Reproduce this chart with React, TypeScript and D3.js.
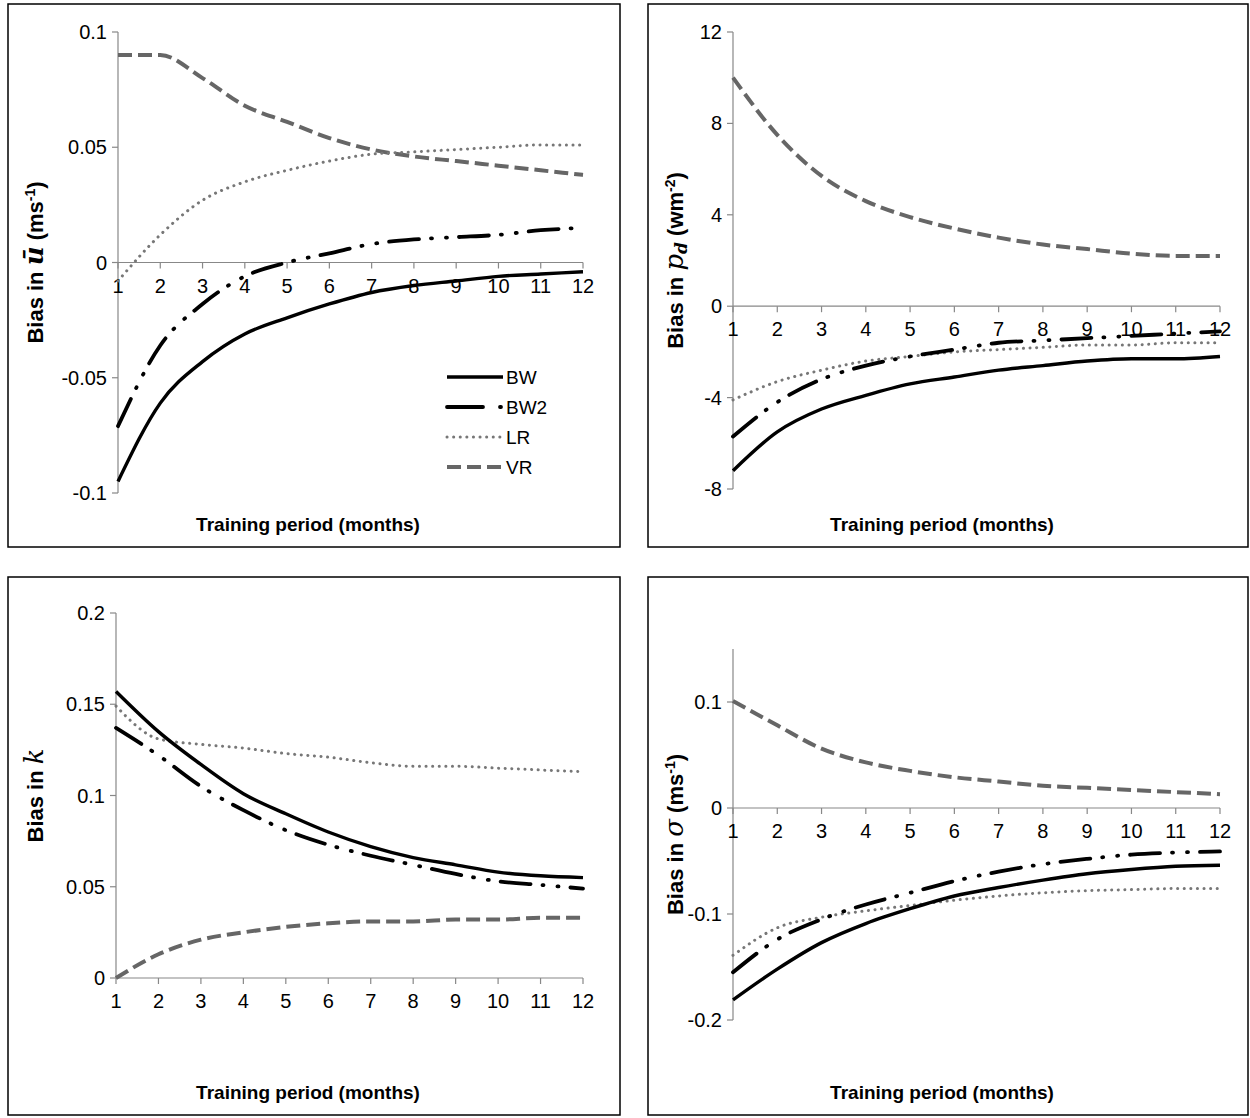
import React from 'react';
import * as d3 from 'd3';

const months = [1, 2, 3, 4, 5, 6, 7, 8, 9, 10, 11, 12];

const uBW = [-0.095, -0.061, -0.043, -0.031, -0.024, -0.018, -0.013, -0.01, -0.008, -0.006, -0.005, -0.004];
const uBW2 = [-0.071, -0.036, -0.018, -0.006, 0.0, 0.004, 0.008, 0.01, 0.011, 0.012, 0.014, 0.015];
const uLR = [-0.008, 0.012, 0.027, 0.035, 0.04, 0.044, 0.047, 0.048, 0.049, 0.05, 0.051, 0.051];
const uVR = [0.09, 0.09, 0.08, 0.068, 0.061, 0.054, 0.049, 0.046, 0.044, 0.042, 0.04, 0.038];

const pBW = [-7.2, -5.5, -4.5, -3.9, -3.4, -3.1, -2.8, -2.6, -2.4, -2.3, -2.3, -2.2];
const pBW2 = [-5.7, -4.2, -3.2, -2.6, -2.2, -1.9, -1.6, -1.5, -1.4, -1.3, -1.2, -1.1];
const pLR = [-4.1, -3.3, -2.8, -2.4, -2.2, -2.0, -1.9, -1.8, -1.7, -1.7, -1.6, -1.6];
const pVR = [10, 7.5, 5.7, 4.6, 3.9, 3.4, 3.0, 2.7, 2.5, 2.3, 2.2, 2.2];

const kBW = [0.157, 0.135, 0.117, 0.101, 0.09, 0.08, 0.072, 0.066, 0.062, 0.058, 0.056, 0.055];
const kBW2 = [0.137, 0.122, 0.105, 0.092, 0.081, 0.073, 0.067, 0.062, 0.057, 0.053, 0.051, 0.049];
const kLR = [0.149, 0.131, 0.128, 0.126, 0.123, 0.121, 0.118, 0.116, 0.116, 0.115, 0.114, 0.113];
const kVR = [0.0, 0.013, 0.021, 0.025, 0.028, 0.03, 0.031, 0.031, 0.032, 0.032, 0.033, 0.033];

const sBW = [-0.181, -0.152, -0.127, -0.109, -0.095, -0.083, -0.075, -0.068, -0.062, -0.058, -0.055, -0.054];
const sBW2 = [-0.155, -0.124, -0.105, -0.091, -0.08, -0.069, -0.06, -0.053, -0.048, -0.044, -0.042, -0.041];
const sLR = [-0.139, -0.113, -0.103, -0.097, -0.092, -0.087, -0.083, -0.08, -0.078, -0.077, -0.076, -0.076];
const sVR = [0.101, 0.078, 0.056, 0.043, 0.035, 0.029, 0.025, 0.021, 0.019, 0.017, 0.015, 0.013];

const seriesNames = ['BW', 'BW2', 'LR', 'VR'];

const styles: Record<string, { stroke: string; width: number; dash: string; cap: string }> = {
  BW: { stroke: '#000', width: 3.4, dash: '', cap: 'butt' },
  BW2: { stroke: '#000', width: 3.8, dash: '30 12 1 14 1 12', cap: 'round' },
  LR: { stroke: '#777', width: 3, dash: '0.1 6.5', cap: 'round' },
  VR: { stroke: '#666', width: 4, dash: '14 6', cap: 'butt' },
};

const font = 'Arial, "Liberation Sans", sans-serif';

type PanelProps = {
  x0: number; y0: number; w: number; h: number;
  px1: number; px2: number; py1: number; py2: number;
  domain: [number, number]; ticks: number[]; fmt: (v: number) => string;
  xLabelAtZero: boolean; labelX: number;
  ylabel: React.ReactNode; data: number[][]; legend?: boolean;
};

const Panel: React.FC<PanelProps> = p => {
  const x = d3.scaleLinear().domain([1, 12]).range([p.px1, p.px2]);
  const y = d3.scaleLinear().domain(p.domain).range([p.py2, p.py1]);
  const axisY = p.xLabelAtZero ? y(0) : p.py2;
  const line = d3.line<number>().x((_, i) => x(months[i])).y(d => y(d)).curve(d3.curveMonotoneX);
  return (
    <g>
      <rect x={p.x0} y={p.y0} width={p.w} height={p.h} fill="#fff" stroke="#000" strokeWidth={1.5} />
      <line x1={p.px1} x2={p.px1} y1={p.py1} y2={p.py2} stroke="#888" strokeWidth={1.2} />
      {p.ticks.map(t => (
        <g key={t}>
          <line x1={p.px1 - 6} x2={p.px1} y1={y(t)} y2={y(t)} stroke="#888" strokeWidth={1.2} />
          <text x={p.px1 - 11} y={y(t)} dy="0.35em" textAnchor="end" fontSize={20} fontFamily={font}>{p.fmt(t)}</text>
        </g>
      ))}
      <line x1={p.px1} x2={p.px2} y1={axisY} y2={axisY} stroke="#888" strokeWidth={1.2} />
      {months.map(m => (
        <g key={m}>
          <line x1={x(m)} x2={x(m)} y1={axisY} y2={axisY + 6} stroke="#888" strokeWidth={1.2} />
          <text x={x(m)} y={axisY + 30} textAnchor="middle" fontSize={20} fontFamily={font}>{m}</text>
        </g>
      ))}
      {[3, 2, 1, 0].map(i => {
        const s = styles[seriesNames[i]];
        return (
          <path key={i} d={line(p.data[i]) ?? ''} fill="none" stroke={s.stroke} strokeWidth={s.width}
            strokeDasharray={s.dash} strokeLinecap={s.cap as any} />
        );
      })}
      {p.legend && seriesNames.map((n, i) => {
        const s = styles[n];
        const ly = 377 + i * 30;
        return (
          <g key={n}>
            <line x1={447} x2={503} y1={ly} y2={ly} stroke={s.stroke} strokeWidth={s.width}
              strokeDasharray={n === 'BW2' ? '36 17 1 100' : s.dash} strokeLinecap={s.cap as any} />
            <text x={506} y={ly} dy="0.35em" fontSize={19} fontFamily={font}>{n}</text>
          </g>
        );
      })}
      <text x={p.x0 + p.w / 2 - 6} y={p.y0 + p.h - 16} textAnchor="middle" fontSize={19} fontWeight="bold" fontFamily={font}>
        Training period  (months)
      </text>
      <text transform={`translate(${p.labelX},${(p.py1 + p.py2) / 2}) rotate(-90)`} textAnchor="middle"
        fontSize={22} fontWeight="bold" fontFamily={font}>
        {p.ylabel}
      </text>
    </g>
  );
};

const it = { fontFamily: '"DejaVu Serif", "Liberation Serif", serif', fontStyle: 'italic', fontSize: 26 } as const;

export default function App() {
  const f2 = (v: number) => (v === 0 ? '0' : String(v));
  return (
    <svg width={1250} height={1118} style={{ position: 'fixed', left: 0, top: 0 }}>
      <rect width={1250} height={1118} fill="#fff" />
      <Panel x0={8} y0={4} w={612} h={543} px1={118} px2={583} py1={32} py2={493}
        domain={[-0.1, 0.1]} ticks={[-0.1, -0.05, 0, 0.05, 0.1]} fmt={f2} xLabelAtZero labelX={43} legend
        data={[uBW, uBW2, uLR, uVR]}
        ylabel={<>Bias in <tspan {...it} fontWeight="bold">ū</tspan> (ms<tspan fontSize={14} dy={-8}>-1</tspan><tspan dy={8}>)</tspan></>} />
      <Panel x0={648} y0={4} w={600} h={543} px1={733} px2={1220} py1={32} py2={489}
        domain={[-8, 12]} ticks={[-8, -4, 0, 4, 8, 12]} fmt={f2} xLabelAtZero labelX={683}
        data={[pBW, pBW2, pLR, pVR]}
        ylabel={<>Bias in <tspan {...it} fontWeight="normal">p</tspan><tspan {...it} fontSize={17} dy={4}>d</tspan><tspan dy={-4}> (wm</tspan><tspan fontSize={14} dy={-8}>-2</tspan><tspan dy={8}>)</tspan></>} />
      <Panel x0={8} y0={577} w={612} h={538} px1={116} px2={583} py1={613} py2={978}
        domain={[0, 0.2]} ticks={[0, 0.05, 0.1, 0.15, 0.2]} fmt={f2} xLabelAtZero={false} labelX={43}
        data={[kBW, kBW2, kLR, kVR]}
        ylabel={<>Bias in <tspan {...it} fontWeight="normal">k</tspan></>} />
      <Panel x0={648} y0={577} w={600} h={538} px1={733} px2={1220} py1={649} py2={1020}
        domain={[-0.2, 0.15]} ticks={[-0.2, -0.1, 0, 0.1]} fmt={f2} xLabelAtZero labelX={683}
        data={[sBW, sBW2, sLR, sVR]}
        ylabel={<>Bias in <tspan {...it} fontWeight="normal">σ</tspan> (ms<tspan fontSize={14} dy={-8}>-1</tspan><tspan dy={8}>)</tspan></>} />
    </svg>
  );
}
